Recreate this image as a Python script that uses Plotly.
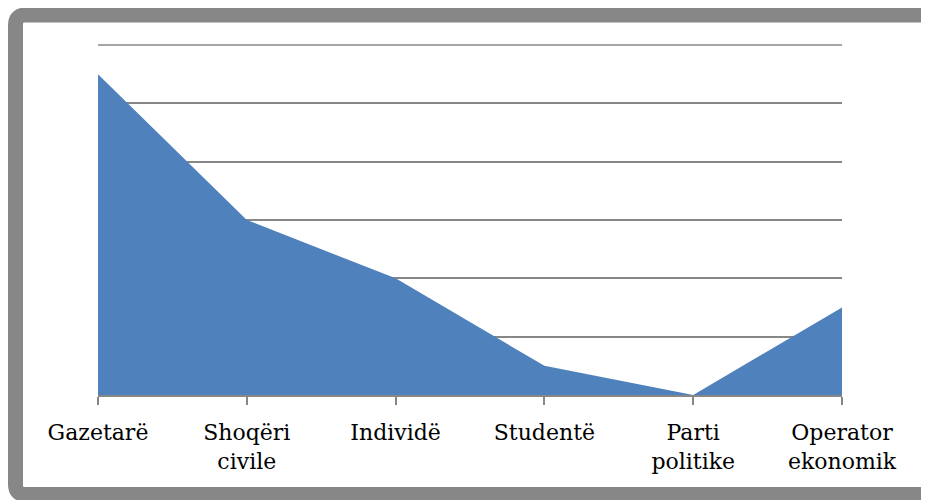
import plotly.graph_objects as go

categories = ["Gazetarë", "Shoqëri<br>civile", "Individë", "Studentë", "Parti<br>politike", "Operator<br>ekonomik"]
values = [5.5, 3.0, 2.0, 0.5, 0.0, 1.5]
y_max = 6

OFF = 8  # page body margin
W, H = 929 - OFF, 500 - OFF
L, R, T, B = 98 - OFF, 842 - OFF, 45 - OFF, 395 - OFF
pw, ph = R - L, B - T

def px(x):
    return (x - OFF - L) / pw

def py(y):
    return (B - (y - OFF)) / ph

xs = list(range(len(categories)))

fig = go.Figure()
fig.add_trace(go.Scatter(
    x=xs, y=values, mode="lines", fill="tozeroy",
    line=dict(color="#4F81BD", width=0), fillcolor="#4F81BD",
    hoverinfo="skip", showlegend=False,
))

# top gridline (plotly omits the one at the range edge); paper refs avoid clipping
fig.add_shape(type="line", xref="paper", yref="paper", x0=0, x1=1, y0=1, y1=1,
              line=dict(color="#878787", width=1.5), layer="below")

# frame with rounded corners (screen coordinates)
x0, x1, y0, y1, r = 15.5, 929.5, 15, 494.5, 10
path = (f"M {px(x0+r)},{py(y0)} L {px(x1-r)},{py(y0)} "
        f"Q {px(x1)},{py(y0)} {px(x1)},{py(y0+r)} "
        f"L {px(x1)},{py(y1-r)} Q {px(x1)},{py(y1)} {px(x1-r)},{py(y1)} "
        f"L {px(x0+r)},{py(y1)} Q {px(x0)},{py(y1)} {px(x0)},{py(y1-r)} "
        f"L {px(x0)},{py(y0+r)} Q {px(x0)},{py(y0)} {px(x0+r)},{py(y0)} Z")
fig.add_shape(type="path", path=path, xref="paper", yref="paper",
              line=dict(color="#878787", width=15), fillcolor="rgba(0,0,0,0)", layer="above")

fig.update_layout(
    width=W, height=H,
    margin=dict(l=L, r=W - R, t=T, b=H - B),
    paper_bgcolor="white", plot_bgcolor="white",
    font=dict(family="DejaVu Serif", size=22, color="#000000"),
    xaxis=dict(
        range=[0, len(categories) - 1], tickmode="array", tickvals=xs, ticktext=categories,
        showgrid=False, zeroline=False, showline=True, linecolor="#878787", linewidth=1.5,
        ticks="outside", ticklen=8, tickcolor="#878787", tickwidth=1.5,
        ticklabelstandoff=9,
        tickfont=dict(family="DejaVu Serif", size=22, color="#000000"),
    ),
    yaxis=dict(
        range=[0, y_max], tickmode="array", tickvals=[1, 2, 3, 4, 5], showticklabels=False, showgrid=True,
        gridcolor="#878787", gridwidth=1.5, zeroline=False, showline=False, ticks="",
    ),
)

fig.write_html("out.html")
